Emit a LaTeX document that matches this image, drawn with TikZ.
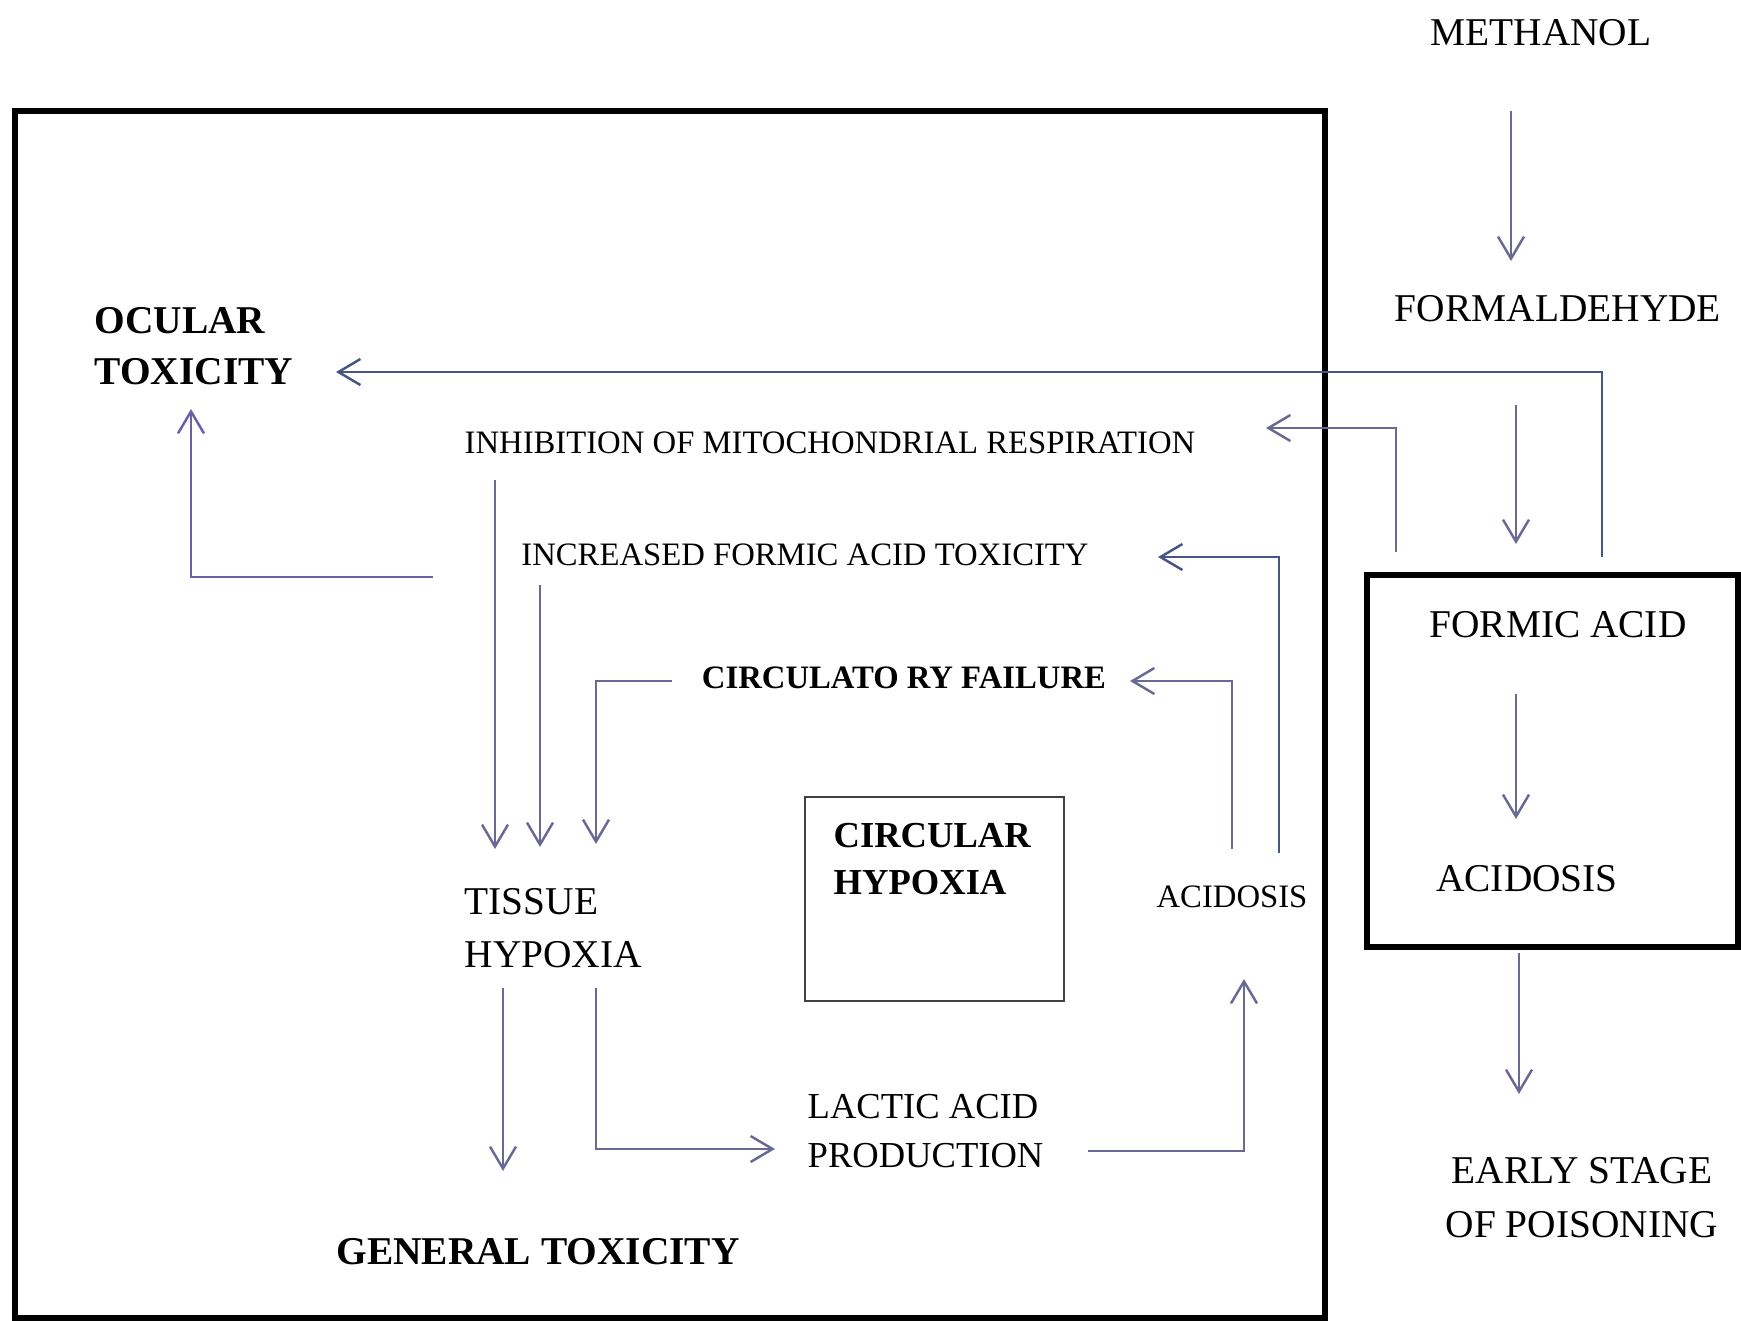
\documentclass[tikz,border=0pt]{standalone}
\usepackage{fontspec}
\setmainfont{Liberation Serif}
\usetikzlibrary{arrows.meta,positioning}
\definecolor{arrowc}{RGB}{105,105,150}
\definecolor{darkline}{RGB}{70,85,135}

\begin{document}
\begin{tikzpicture}[x=0.01cm,y=-0.01cm,
  big/.style={inner sep=1pt,font=\fontsize{11.2}{15}\selectfont},
  mid/.style={inner sep=0pt,font=\fontsize{10.4}{14}\selectfont,align=left},
  small/.style={inner sep=1pt,font=\fontsize{9.3}{12}\selectfont},
  boxed/.style={draw,line width=1.7pt,inner sep=0pt},
  arr/.style={draw=arrowc,line width=0.7pt,-{Straight Barb[length=2.2mm,width=2.6mm]}}
  ]
\useasboundingbox (0,0) rectangle (1741,1320);
% frames
\node[boxed,minimum width=13.09cm,minimum height=12.07cm] (bigbox) at (670,714.5){};
\node[boxed,minimum width=3.71cm,minimum height=3.72cm] (acidbox) at (1552.5,761){};
\node[draw=black!75,line width=0.6pt,minimum width=2.59cm,minimum height=2.04cm] (circbox) at (934.5,899){};
% right column
\node[big] (methanol) at (1541,33) {METHANOL};
\node[big] (formald) at (1558,309) {FORMALDEHYDE};
\node[big] (formic) at (1558,625) {FORMIC ACID};
\node[big] (acidR) at (1527,879) {ACIDOSIS};
\node[big,align=center,font=\fontsize{11.2}{15.3}\selectfont] (early) at (1582,1198) {EARLY STAGE\\OF POISONING};
% inside the big frame
\node[big,inner sep=0pt,anchor=west,align=left,font=\fontsize{11.2}{14.7}\selectfont\bfseries] (ocular) at (94,346) {OCULAR\\TOXICITY};
\node[small] (inhib) at (830,443) {INHIBITION OF MITOCHONDRIAL RESPIRATION};
\node[small] (incr) at (805,555) {INCREASED FORMIC ACID TOXICITY};
\node[small,font=\fontsize{9.3}{12}\selectfont\bfseries] (circf) at (904,678) {CIRCULATO RY FAILURE};
\node[big,inner sep=0pt,anchor=west,align=left,font=\fontsize{11.2}{15}\selectfont] (tissue) at (464,928) {TISSUE\\HYPOXIA};
\node[mid,anchor=west,font=\fontsize{10.4}{13.6}\selectfont\bfseries] (circular) at (833,859) {CIRCULAR\\HYPOXIA};
\node[small] (acidI) at (1232,897) {ACIDOSIS};
\node[mid,anchor=west,font=\fontsize{10.4}{13.9}\selectfont] (lactic) at (807,1131) {LACTIC ACID\\PRODUCTION};
\node[big,font=\fontsize{11.2}{15}\selectfont\bfseries] (general) at (538,1252) {GENERAL TOXICITY};
% connector ends
\coordinate (m1) at (1511,111);  \coordinate (m2) at (1511,261);
\coordinate (f1) at (1516,405);  \coordinate (f2) at (1516,544);
\coordinate (c1) at (1516,694);  \coordinate (c2) at (1516,819);
\coordinate (e1) at (1519,953);  \coordinate (e2) at (1519,1094);
\coordinate (o1) at (1602,557);  \coordinate (o2) at (336,372);
\coordinate (o3) at (433,577);   \coordinate (o4) at (191,409);
\coordinate (i1) at (1396,552);  \coordinate (i2) at (1266,428);
\coordinate (n1) at (1279,853);  \coordinate (n2) at (1158,557);
\coordinate (r1) at (1232,849);  \coordinate (r2) at (1130,681);
\coordinate (r3) at (672,681);   \coordinate (t3) at (596,844);
\coordinate (s1) at (495,480);   \coordinate (t1) at (495,849);
\coordinate (s2) at (540,585);   \coordinate (t2) at (540,847);
\coordinate (h1) at (503,988);   \coordinate (h2) at (503,1171);
\coordinate (h3) at (596,988);   \coordinate (l1) at (775,1149);
\coordinate (l2) at (1088,1151); \coordinate (a1) at (1244,979);
% arrows
\draw[arr] (m1) -- (m2);
\draw[arr] (f1) -- (f2);
\draw[arr] (c1) -- (c2);
\draw[arr] (e1) -- (e2);
\draw[arr,draw=darkline] (o1) |- (o2);
\draw[arr,draw={rgb,255:red,105;green,95;blue,170}] (o3) -| (o4);
\draw[arr] (i1) |- (i2);
\draw[arr,draw=darkline] (n1) |- (n2);
\draw[arr] (r1) |- (r2);
\draw[arr] (r3) -| (t3);
\draw[arr] (s1) -- (t1);
\draw[arr] (s2) -- (t2);
\draw[arr] (h1) -- (h2);
\draw[arr] (h3) |- (l1);
\draw[arr] (l2) -| (a1);
\end{tikzpicture}
\end{document}
